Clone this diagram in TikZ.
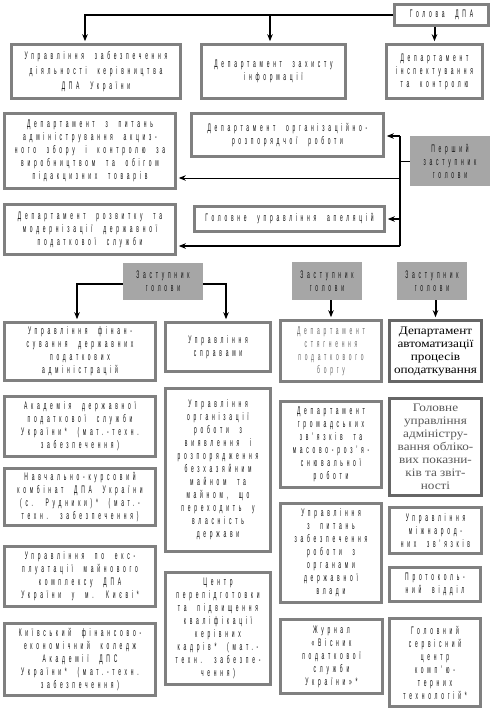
\documentclass[tikz,border=0pt]{standalone}
\usepackage{fontspec}
\usetikzlibrary{arrows.meta}
\newfontfamily\condf[FakeStretch=0.45,LetterSpace=34,WordSpace=2.1]{Liberation Sans}
\newfontfamily\serff[FakeStretch=1.15]{Liberation Serif}
\definecolor{bordgray}{HTML}{808080}
\definecolor{fillgray}{HTML}{A6A6A6}
\definecolor{txt}{HTML}{111111}
\tikzset{
  box/.style={draw=bordgray, line width=2.6pt, fill=white, inner sep=1pt, align=center,
    text=txt, font=\condf\fontsize{11}{13}\selectfont},
  sbox/.style={box, draw=bordgray!80!black, font=\serff\fontsize{11.5}{13}\selectfont},
  dep/.style={fill=fillgray, draw=none, inner sep=1pt, align=center, text=txt,
    font=\condf\fontsize{11}{13}\selectfont},
  thk/.style={line width=2pt, black},
  thn/.style={line width=1pt, black},
  arr/.style={-{Stealth[length=7pt,width=5.5pt]}, shorten >=2pt}
}
\begin{document}
\begin{tikzpicture}[x=1pt,y=-1pt]
\useasboundingbox (0,0) rectangle (492,710);
% top level
\node[box, minimum width=94pt, minimum height=21pt] (head) at (441.5,15) {Голова ДПА};
\node[box, minimum width=169pt, minimum height=54pt, font=\condf\fontsize{11}{15}\selectfont] (A) at (96,71.5) {Управління забезпечення\\діяльності керівництва\\ДПА України};
\node[box, minimum width=144pt, minimum height=54pt] (B) at (273.5,71.5) {Департамент захисту\\інформації};
\node[box, minimum width=96pt, minimum height=54pt] (C) at (434.5,71.5) {Департамент\\інспектування\\та контролю};
% first deputy group
\node[box, minimum width=171pt, minimum height=75pt] (D) at (90,151) {Департамент з питань\\адміністрування акциз-\\ного збору і контролю за\\виробництвом та обігом\\підакцизних товарів};
\node[box, minimum width=192pt, minimum height=43pt] (E) at (287.5,135) {Департамент організаційно-\\розпорядчої роботи};
\node[dep, minimum width=80pt, minimum height=50pt] (FD) at (450,161) {Перший\\заступник\\голови};
\node[box, minimum width=171pt, minimum height=50pt] (F) at (90,229.5) {Департамент розвитку та\\модернізації державної\\податкової служби};
\node[box, minimum width=190pt, minimum height=25pt] (G) at (289.5,219) {Головне управління апеляцій};
% deputies
\node[dep, minimum width=80pt, minimum height=37pt] (Z1) at (163,281.5) {Заступник\\голови};
\node[dep, minimum width=70pt, minimum height=38pt] (Z2) at (327,281) {Заступник\\голови};
\node[dep, minimum width=70pt, minimum height=38pt] (Z3) at (432,281) {Заступник\\голови};
% column 1
\node[box, minimum width=151pt, minimum height=58pt] (H) at (80,351.5) {Управління фінан-\\сування державних\\податкових\\адміністрацій};
\node[box, minimum width=151pt, minimum height=60pt] (L) at (80,426.5) {Академія державної\\податкової служби\\України* (мат.-техн.\\забезпечення)};
\node[box, minimum width=151pt, minimum height=57pt] (M) at (80,497) {Навчально-курсовий\\комбінат ДПА України\\(с. Рудники)* (мат.-\\техн. забезпечення)};
\node[box, minimum width=151pt, minimum height=60pt] (W) at (80,576.5) {Управління по екс-\\плуатації майнового\\комплексу ДПА\\України у м. Києві*};
\node[box, minimum width=151pt, minimum height=72pt] (X) at (80,659.5) {Київський фінансово-\\економічний коледж\\Академії ДПС\\України* (мат.-техн.\\забезпечення)};
% column 2
\node[box, minimum width=105pt, minimum height=49pt] (I) at (218,347) {Управління\\справами};
\node[box, minimum width=105pt, minimum height=163pt] (N) at (218,470) {Управління\\організації\\роботи з\\виявлення і\\розпорядження\\безхазяйним\\майном та\\майном, що\\переходить у\\власність\\держави};
\node[box, minimum width=105pt, minimum height=112pt] (O) at (218,628.5) {Центр\\перепідготовки\\та підвищення\\кваліфікації\\керівних\\кадрів* (мат.-\\техн. забезпе-\\чення)};
% column 3
\node[box, minimum width=101pt, minimum height=61pt, text=black!60] (J) at (331,351) {Департамент\\стягнення\\податкового\\боргу};
\node[box, minimum width=101pt, minimum height=86pt] (P) at (331,444.5) {Департамент\\громадських\\зв’язків та\\масово-роз’я-\\снювальної\\роботи};
\node[box, minimum width=101pt, minimum height=99pt] (R) at (331,553) {Управління\\з питань\\забезпечення\\роботи з\\органами\\державної\\влади};
\node[box, minimum width=102pt, minimum height=74pt] (U) at (331.5,656.5) {Журнал\\«Вісник\\податкової\\служби\\України»*};
% column 4
\node[sbox, minimum width=92pt, minimum height=61pt, text=black] (K) at (435.5,351) {Департамент\\автоматизації\\процесів\\оподаткування};
\node[sbox, minimum width=92pt, minimum height=97pt, text=black!65] (Q) at (435.5,447) {Головне\\управління\\адміністру-\\вання обліко-\\вих показни-\\ків та звіт-\\ності};
\node[box, minimum width=92pt, minimum height=46pt] (S) at (435.5,530.5) {Управління\\міжнарод-\\них зв’язків};
\node[box, minimum width=91pt, minimum height=34pt] (T) at (435,584.5) {Протоколь-\\ний відділ};
\node[box, minimum width=91pt, minimum height=88pt] (V) at (435,662.5) {Головний\\сервісний\\центр\\комп’ю-\\терних\\технологій*};
% connectors: head
\coordinate (jB) at (270,15);
\draw[thk, arr] (head.west) -| ([xshift=-11pt]A.north);
\draw[thk, arr] (jB) -- (jB |- B.north);
\draw[thk, arr] (C.north |- head.south) -- (C.north);
% connectors: first deputy
\coordinate (sp1) at (400,136);
\coordinate (sp2) at (400,246);
\coordinate (dl) at (400,178);
\draw[thn] (FD.west) -- (FD.west -| sp1);
\draw[thk] (sp1) -- (sp2);
\draw[thk, arr] (sp1) -- (sp1 -| E.east);
\draw[thn, arr] (dl) -- (dl -| D.east);
\draw[thk, arr] (G.east -| sp1) -- (G.east);
\draw[thk, arr] (sp2) -- (sp2 -| F.east);
% connectors: deputies
\draw[thk, arr] ([yshift=-2.5pt]Z1.west) -| ([xshift=-3pt]H.north);
\draw[thk, arr] ([yshift=-2.5pt]Z1.east) -| ([xshift=8pt]I.north);
\draw[thk, arr] (J.north |- Z2.south) -- (J.north);
\draw[thk, arr] (K.north |- Z3.south) -- (K.north);
\end{tikzpicture}
\end{document}
